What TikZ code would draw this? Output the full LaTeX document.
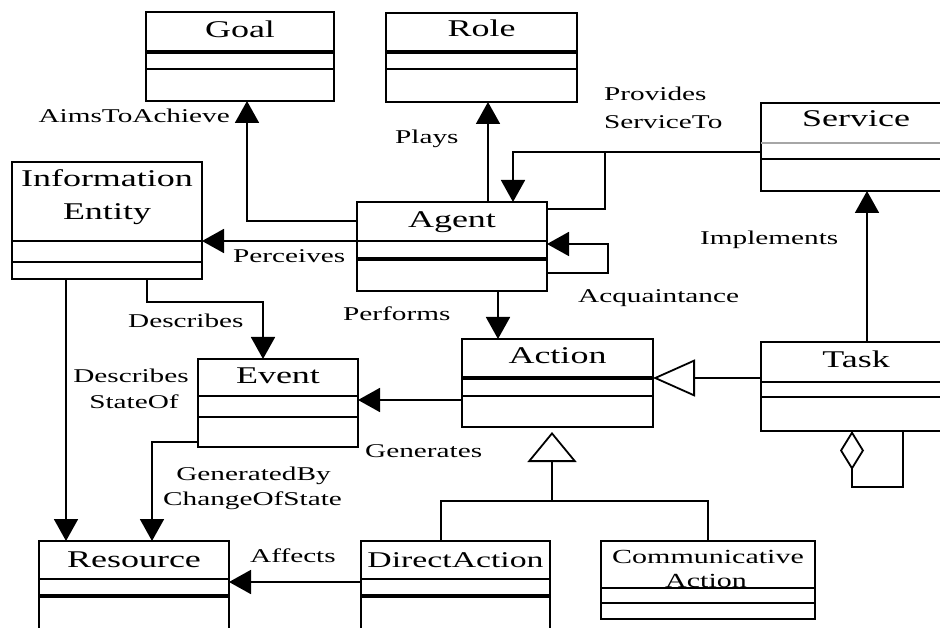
\documentclass[tikz,border=0pt]{standalone}
\usepackage{fontspec}
\setmainfont{Liberation Serif}[FakeStretch=1.5]
\usetikzlibrary{arrows.meta}
\begin{document}
\begin{tikzpicture}[x=1pt,y=-1pt,
  cls/.style={draw, line width=1.8pt, inner sep=0pt, outer sep=0pt, rectangle},
  sep/.style={line width=1.5pt},
  thicksep/.style={line width=3.2pt},
  lightsep/.style={line width=1.5pt, black!35},
  cname/.style={anchor=base, inner sep=0pt, font=\fontsize{24}{27}\selectfont},
  lbl/.style={inner sep=0pt, font=\fontsize{19.5}{24}\selectfont},
  assoc/.style={line width=1.8pt, -{Triangle[width=24pt,length=22pt]}},
  link/.style={line width=1.8pt},
  gen/.style={line width=1.8pt, -{Triangle[open,width=37pt,length=42pt,fill=white]}},
]
\useasboundingbox (0,0) rectangle (940,628);
\clip (0,0) rectangle (940,628);
\fill[white] (0,0) rectangle (940,628);

% ---------- classes ----------
\node[cls, minimum width=188pt, minimum height=89pt]  (goal)     at (240,56.5)  {};
\node[cls, minimum width=191pt, minimum height=89pt]  (role)     at (481.5,57.5) {};
\node[cls, minimum width=190pt, minimum height=117pt] (info)     at (107,220.5) {};
\node[cls, minimum width=190pt, minimum height=89pt]  (agent)    at (452,246.5) {};
\node[cls, minimum width=190pt, minimum height=88pt]  (service)  at (856,147)   {};
\node[cls, minimum width=190pt, minimum height=89pt]  (task)     at (856,386.5) {};
\node[cls, minimum width=191pt, minimum height=88pt]  (action)   at (557.5,383) {};
\node[cls, minimum width=160pt, minimum height=88pt]  (event)    at (278,403)   {};
\node[cls, minimum width=190pt, minimum height=119pt] (resource) at (134,600.5) {};
\node[cls, minimum width=189pt, minimum height=119pt] (direct)   at (455.5,600.5) {};
\node[cls, minimum width=214pt, minimum height=78pt]  (comm)     at (708,580)   {};

% compartment separators
\draw[thicksep] (goal.west |- 0,52) -- (goal.east |- 0,52);
\draw[sep]      (goal.west |- 0,69) -- (goal.east |- 0,69);
\draw[thicksep] (role.west |- 0,52) -- (role.east |- 0,52);
\draw[sep]      (role.west |- 0,69) -- (role.east |- 0,69);
\draw[sep]      (info.west |- 0,241) -- (info.east |- 0,241);
\draw[sep]      (info.west |- 0,262) -- (info.east |- 0,262);
\draw[sep]      (agent.west |- 0,241) -- (agent.east |- 0,241);
\draw[thicksep] (agent.west |- 0,259) -- (agent.east |- 0,259);
\draw[lightsep] (service.west |- 0,143) -- (service.east |- 0,143);
\draw[sep]      (service.west |- 0,159) -- (service.east |- 0,159);
\draw[sep]      (task.west |- 0,382) -- (task.east |- 0,382);
\draw[sep]      (task.west |- 0,397) -- (task.east |- 0,397);
\draw[thicksep] (action.west |- 0,378) -- (action.east |- 0,378);
\draw[sep]      (action.west |- 0,396) -- (action.east |- 0,396);
\draw[sep]      (event.west |- 0,396) -- (event.east |- 0,396);
\draw[sep]      (event.west |- 0,417) -- (event.east |- 0,417);
\draw[sep]      (resource.west |- 0,579) -- (resource.east |- 0,579);
\draw[thicksep] (resource.west |- 0,596) -- (resource.east |- 0,596);
\draw[sep]      (direct.west |- 0,579) -- (direct.east |- 0,579);
\draw[thicksep] (direct.west |- 0,596) -- (direct.east |- 0,596);
\draw[sep]      (comm.west |- 0,588) -- (comm.east |- 0,588);
\draw[sep]      (comm.west |- 0,603) -- (comm.east |- 0,603);

% class names
\node[cname] (tgoal)    at (240,38)    {Goal};
\node[cname] (trole)    at (481.5,37)  {Role};
\node[cname] (tinfo1)   at (107,187)   {Information};
\node[cname] (tinfo2)   at (107,220)   {Entity};
\node[cname] (tagent)   at (452,228)   {Agent};
\node[cname] (tservice) at (856,127)   {Service};
\node[cname] (ttask)    at (856,367)   {Task};
\node[cname] (taction)  at (557.5,363) {Action};
\node[cname] (tevent)   at (278,383)   {Event};
\node[cname] (tres)     at (134,567)   {Resource};
\node[cname, font=\fontsize{22.5}{26}\selectfont] (tdirect) at (455.5,567) {DirectAction};
\node[cname, font=\fontsize{20}{24}\selectfont]   (tcomm1)  at (708,563)   {Communicative};
\node[cname, font=\fontsize{20}{24}\selectfont]   (tcomm2)  at (706,587)   {Action};

% ---------- associations ----------
\draw[assoc] (agent.west |- 0,221) -- (247,221) -- (goal.south -| 247,0);
\draw[assoc] (agent.west |- 0,241) -- (info.east |- 0,241);
\draw[assoc] (agent.north -| 488,0) -- (role.south -| 488,0);
\draw[assoc] (service.west |- 0,152) -- (513,152) -- (agent.north -| 513,0);
\draw[link]  (agent.east |- 0,209) -- (605,209) -- (605,152);
\draw[assoc] (agent.east |- 0,273) -- (608,273) -- (608,244) -- (agent.east |- 0,244);
\draw[assoc] (agent.south -| 498,0) -- (action.north -| 498,0);
\draw[assoc] (info.south -| 147,0) -- (147,302) -- (263,302) -- (event.north -| 263,0);
\draw[assoc] (info.south -| 66,0) -- (resource.north -| 66,0);
\draw[assoc] (action.west |- 0,400) -- (event.east |- 0,400);
\draw[assoc] (event.west |- 0,442) -- (152,442) -- (resource.north -| 152,0);
\draw[assoc] (direct.west |- 0,582) -- (resource.east |- 0,582);
\draw[assoc] (task.north -| 867,0) -- (service.south -| 867,0);

% generalizations
\draw[gen] (task.west |- 0,378) -- (action.east |- 0,378);
\draw[link] (direct.north -| 441,0) -- (441,501) -- (708,501) -- (comm.north -| 708,0);
\draw[line width=1.8pt, -{Triangle[open,width=49pt,length=30pt,fill=white]}, shorten >=5pt]
  (552,501) -- (action.south -| 552,0);

% aggregation of tasks
\draw[line width=1.8pt, {Diamond[open,width=24pt,length=39pt,fill=white]}-]
  (task.south -| 852,0) -- (852,487) -- (903,487) -- (task.south -| 903,0);

% ---------- labels ----------
\node[lbl, anchor=base east] (laims) at (230,123) {AimsToAchieve};
\node[lbl, anchor=base west] (lplays) at (395,144) {Plays};
\node[lbl, anchor=base west] (lprov1) at (604,101) {Provides};
\node[lbl, anchor=base west] (lprov2) at (604,129) {ServiceTo};
\node[lbl, anchor=base west] (limpl) at (700,245) {Implements};
\node[lbl, anchor=base west] (lacq) at (578,303) {Acquaintance};
\node[lbl, anchor=base west] (lperc) at (233,263) {Perceives};
\node[lbl, anchor=base west] (lperf) at (343,321) {Performs};
\node[lbl, anchor=base west] (ldesc) at (128,328) {Describes};
\node[lbl, anchor=base] (ldst1) at (131,382) {Describes};
\node[lbl, anchor=base] (ldst2) at (134,408) {StateOf};
\node[lbl, anchor=base west] (lgen) at (365,457) {Generates};
\node[lbl, anchor=base] (lgby1) at (253.5,480) {GeneratedBy};
\node[lbl, anchor=base] (lgby2) at (252.5,505) {ChangeOfState};
\node[lbl, anchor=base west] (laff) at (250,562) {Affects};
\end{tikzpicture}
\end{document}
